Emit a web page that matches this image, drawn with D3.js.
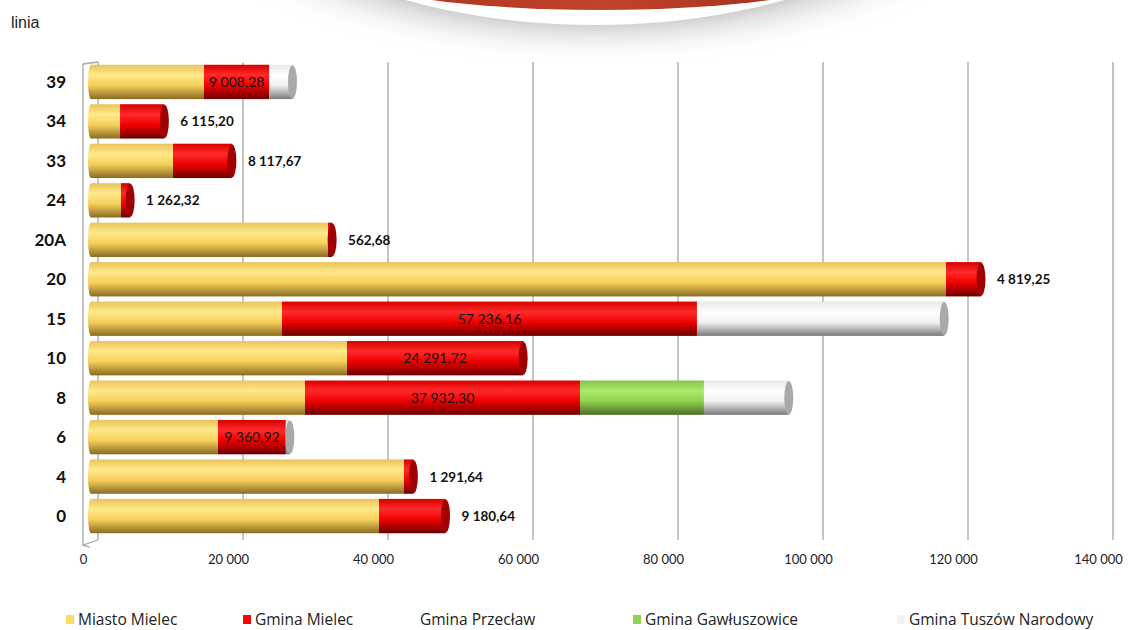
<!DOCTYPE html>
<html>
<head>
<meta charset="utf-8">
<script src="https://cdn.jsdelivr.net/npm/d3@7/dist/d3.min.js"></script>
<style>
  body { margin: 0; background: #fff; }
  svg { display: block; }
</style>
</head>
<body>
<div id="chart"></div>
<script>
// data (line numbers top to bottom)
var lines = ["39", "34", "33", "24", "20A", "20", "15", "10", "8", "6", "4", "0"];
var miastoMielec = [15860, 4280, 11590, 4410, 32970, 118210, 26620, 35590, 29790, 17790, 43450, 40000];
var gminaMielec = [9008.28, 6115.20, 8117.67, 1262.32, 562.68, 4819.25, 57236.16, 24291.72, 37932.30, 9360.92, 1291.64, 9180.64];
var gminaPrzeclaw = [0, 0, 0, 0, 0, 0, 0, 0, 0, 0, 0, 0];
var gminaGawluszowice = [0, 0, 0, 0, 0, 0, 0, 0, 17100, 0, 0, 0];
var gminaTuszow = [3200, 0, 0, 0, 0, 0, 34100, 0, 11700, 550, 0, 0];
var seriesNames = ["Miasto Mielec", "Gmina Mielec", "Gmina Przecław", "Gmina Gawłuszowice", "Gmina Tuszów Narodowy"];
var xTicks = [0, 20000, 40000, 60000, 80000, 100000, 120000, 140000];

var W = 1129, H = 630;
var font = "Lato, 'Open Sans', sans-serif";

var svg = d3.select("#chart").append("svg")
    .attr("width", W)
    .attr("height", H);

var defs = svg.append("defs");

// cylinder gradients: [top, highlight, mid, bottom]
var palette = [
    {id: "yel", stops: ["#e9c45a", "#ffe98a", "#f5cf5a", "#8a6c22"], cap: "#b8922e", leg: "#ffd966"},
    {id: "red", stops: ["#d80000", "#ff2a2a", "#f00000", "#6a0000"], cap: "#a00000", leg: "#ff0000"},
    {id: "prz", stops: ["#ffffff", "#ffffff", "#ffffff", "#ffffff"], cap: "#ffffff", leg: "none"},
    {id: "grn", stops: ["#86c24a", "#aaea6a", "#92d050", "#4c6e28"], cap: "#6c9a3a", leg: "#92d050"},
    {id: "wht", stops: ["#e8e8e8", "#ffffff", "#f2f2f2", "#7a7a7a"], cap: "#a9a9a9", leg: "#f2f2f2"}
];
palette.forEach(function(p) {
    var g = defs.append("linearGradient").attr("id", "g-" + p.id)
        .attr("x1", 0).attr("y1", 0).attr("x2", 0).attr("y2", 1);
    [0, 0.3, 0.6, 1].forEach(function(o, i) {
        g.append("stop").attr("offset", o).attr("stop-color", p.stops[i]);
    });
});

// shadow for the banner at the top
var sh = defs.append("radialGradient").attr("id", "g-shadow")
    .attr("cx", 0.5).attr("cy", 0.5).attr("r", 0.5);
sh.append("stop").attr("offset", 0.75).attr("stop-color", "#9a9a9a").attr("stop-opacity", 0.8);
sh.append("stop").attr("offset", 1).attr("stop-color", "#ffffff").attr("stop-opacity", 0);
var rg = defs.append("linearGradient").attr("id", "g-banner")
    .attr("x1", 0).attr("y1", 0).attr("x2", 1).attr("y2", 0);
rg.append("stop").attr("offset", 0).attr("stop-color", "#a8301c");
rg.append("stop").attr("offset", 0.5).attr("stop-color", "#c0442a");
rg.append("stop").attr("offset", 1).attr("stop-color", "#9c2a18");

// decorative banner
svg.append("ellipse").attr("cx", 595).attr("cy", -150).attr("rx", 470).attr("ry", 215)
    .attr("fill", "url(#g-shadow)");
svg.append("ellipse").attr("cx", 595).attr("cy", -185).attr("rx", 400).attr("ry", 210)
    .attr("fill", "#ffffff");
svg.append("ellipse").attr("cx", 601).attr("cy", -28).attr("rx", 250).attr("ry", 38)
    .attr("fill", "url(#g-banner)");

svg.append("text").attr("x", 11).attr("y", 28)
    .attr("font-family", "'Liberation Sans', Arial, sans-serif")
    .attr("font-size", 16).attr("fill", "#222")
    .text("linia");

// scales
var x = d3.scaleLinear().domain([0, 140000]).range([89, 1104]);
var y = d3.scaleBand().domain(lines).range([62, 536]).paddingInner(0.13).paddingOuter(0.07);

// back wall gridlines (shifted for the 3D look)
var grid = svg.append("g").attr("transform", "translate(9,0)");
grid.selectAll("line").data(xTicks).enter().append("line")
    .attr("x1", function(d) { return x(d); })
    .attr("x2", function(d) { return x(d); })
    .attr("y1", 62).attr("y2", 540)
    .attr("stroke", "#a6a6a6").attr("stroke-width", 1.3);

// side wall and floor
svg.append("path")
    .attr("d", "M83,64 L98,62 M83,64 L83,545 L98,540 M83,545 L90,547")
    .attr("fill", "none").attr("stroke", "#a6a6a6").attr("stroke-width", 1.3);

// stacked data
var rows = lines.map(function(l, i) {
    return {line: l, vals: [miastoMielec[i], gminaMielec[i], gminaPrzeclaw[i], gminaGawluszowice[i], gminaTuszow[i]]};
});

var bh = y.bandwidth();
var capRx = 4.5;

var bars = svg.append("g").selectAll("g.bar").data(rows).enter().append("g")
    .attr("class", "bar")
    .attr("transform", function(d) { return "translate(0," + y(d.line) + ")"; });

bars.each(function(d) {
    var g = d3.select(this);
    var acc = 0, lastIdx = 0;
    var segs = d.vals.map(function(v, k) {
        var s = {k: k, x0: acc, x1: acc + v};
        acc += v;
        if (v > 0) lastIdx = k;
        return s;
    }).filter(function(s) { return s.x1 > s.x0; });

    // left rounded end
    g.append("ellipse")
        .attr("cx", x(0) + 2).attr("cy", bh / 2).attr("rx", 3).attr("ry", bh / 2)
        .attr("fill", "url(#g-yel)");

    g.selectAll("rect").data(segs).enter().append("rect")
        .attr("x", function(s) { return x(s.x0) + (s.k === 0 ? 2 : 0); })
        .attr("width", function(s) { return x(s.x1) - x(s.x0) - (s.k === 0 ? 2 : 0); })
        .attr("y", 0).attr("height", bh)
        .attr("fill", function(s) { return "url(#g-" + palette[s.k].id + ")"; });

    // end cap
    g.append("ellipse")
        .attr("cx", x(acc)).attr("cy", bh / 2).attr("rx", capRx).attr("ry", bh / 2 - 0.5)
        .attr("fill", palette[lastIdx].cap);

    // data label for Gmina Mielec
    var red = d.vals[1];
    var redX0 = x(d.vals[0]), redX1 = x(d.vals[0] + red);
    var inside = lastIdx > 1 || (redX1 - redX0) > 80;
    var lbl = d3.format(",.2f")(red).replace(/,/g, " ").replace(".", ",");
    g.append("text")
        .attr("x", inside ? (redX0 + redX1) / 2 : x(acc) + 16)
        .attr("y", bh / 2 + 5)
        .attr("text-anchor", inside ? "middle" : "start")
        .attr("font-family", font)
        .attr("font-size", inside ? 14 : 13.5)
        .attr("font-weight", inside ? "normal" : "bold")
        .attr("fill", "#111")
        .text(lbl);
});

// category axis
var yAxis = svg.append("g").attr("transform", "translate(70,0)")
    .call(d3.axisLeft(y).tickSize(0).tickPadding(4));
yAxis.select(".domain").remove();
yAxis.selectAll("text")
    .attr("font-family", font).attr("font-size", 17).attr("font-weight", "bold").attr("fill", "#111")
    .attr("dy", "0.35em");

// value axis (front edge of the floor)
var xAxis = svg.append("g").attr("transform", "translate(-6,547)")
    .call(d3.axisBottom(x).tickValues(xTicks).tickSize(0).tickPadding(8)
        .tickFormat(function(d) { return d3.format(",")(d).replace(/,/g, " "); }));
xAxis.select(".domain").remove();
xAxis.selectAll("text")
    .attr("font-family", font).attr("font-size", 13).attr("fill", "#222");

// legend
var legX = [66, 243, 408, 633, 897];
var legend = svg.append("g").selectAll("g").data(seriesNames).enter().append("g")
    .attr("transform", function(d, i) { return "translate(" + legX[i] + ",620)"; });
legend.append("rect")
    .attr("x", 0).attr("y", -5).attr("width", 8).attr("height", 9)
    .attr("fill", function(d, i) { return palette[i].leg; });
legend.append("text")
    .attr("x", 12).attr("y", 5)
    .attr("font-family", "'Open Sans', Lato, sans-serif").attr("font-size", 15.5).attr("fill", "#222")
    .text(function(d) { return d; });
</script>
</body>
</html>
